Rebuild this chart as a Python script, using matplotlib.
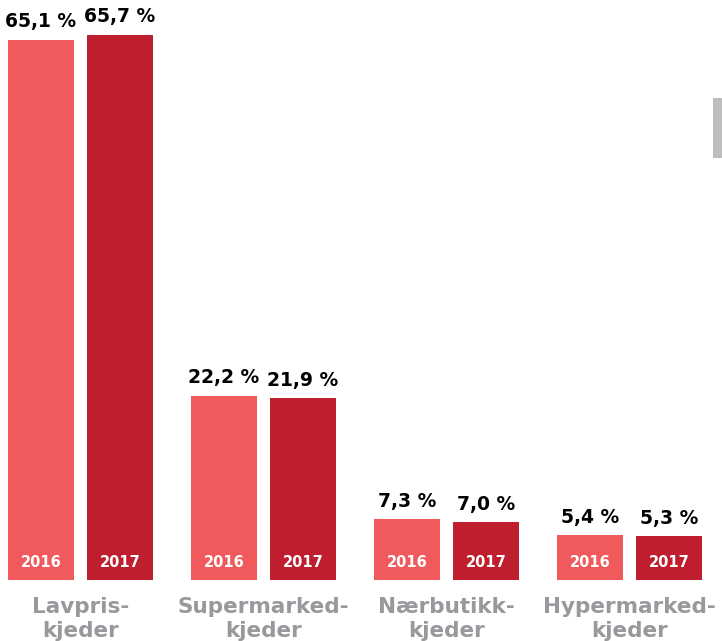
import matplotlib
matplotlib.use("Agg")
import matplotlib.pyplot as plt
from matplotlib.patches import Rectangle

# data
categories = ["Lavpris-\nkjeder", "Supermarked-\nkjeder", "Nærbutikk-\nkjeder", "Hypermarked-\nkjeder"]
years = ["2016", "2017"]
share_2016 = [65.1, 22.2, 7.3, 5.4]
share_2017 = [65.7, 21.9, 7.0, 5.3]
series = [share_2016, share_2017]
colors = ["#f05a5c", "#be1e2d"]

W, H = 722, 641
fig = plt.figure(figsize=(W / 100, H / 100), dpi=100)
base = 580  # pixel row of bar baseline (from top)
ax = fig.add_axes([0, (H - base) / H, 1, base / H])
ax.set_xlim(0, W)
ax.set_ylim(0, base / 8.3)
ax.axis("off")

group_step = 183
first_center = 80.5
offsets = [-39.5, 39.5]
bar_w = 66

for j, vals in enumerate(series):
    for i, v in enumerate(vals):
        x = first_center + group_step * i + offsets[j]
        ax.bar(x, v, width=bar_w, color=colors[j], linewidth=0)
        lbl = f"{v:.1f}".replace(".", ",") + " %"
        ax.annotate(lbl, (x, v), xytext=(0, 6), textcoords="offset points",
                    ha="center", va="bottom", fontsize=13.5, fontweight="bold",
                    color="black")
        ax.annotate(years[j], (x, 0), xytext=(0, 12.5), textcoords="offset points",
                    ha="center", va="center", fontsize=10.5, fontweight="bold",
                    color="white")

for i, cat in enumerate(categories):
    x = first_center + group_step * i
    ax.annotate(cat, (x, 0), xytext=(0, -12), textcoords="offset points",
                ha="center", va="top", fontsize=15.5, fontweight="bold",
                color="#99999d", linespacing=1.3, annotation_clip=False)

# grey scroll marker at the right edge
fig.patches.append(Rectangle((713 / W, 1 - 158 / H), 9 / W, 60 / H,
                             transform=fig.transFigure, color="#bdbdbd",
                             linewidth=0))

fig.savefig("out.png", dpi=100)
